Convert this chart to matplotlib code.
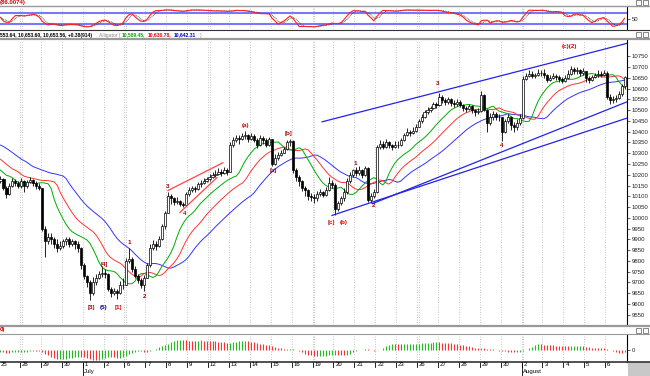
import matplotlib
matplotlib.use("Agg")
import matplotlib.pyplot as plt
import numpy as np
import pandas as pd

# ---- data (hourly bars, 7 per session) ------------------------------------
DAY_LABELS = ["25", "28", "29", "30", "1", "2", "6", "7", "8", "9", "12", "13", "14", "15",
              "16", "19", "20", "21", "22", "23", "26", "27", "28", "29", "30", "2", "3", "4",
              "5", "6"]
MONTHS = {4: "July", 25: "August"}
WEEK_STARTS = [1, 6, 10, 15, 20, 25]
FIRST_OPEN = 10170

CLOSE = [
    10180, 10140, 10110, 10150, 10170, 10160, 10150,   # Jun 25
    10170, 10150, 10165, 10175, 10160, 10150, 10140,   # Jun 28
    9950, 9890, 9910, 9900, 9880, 9860, 9870,          # Jun 29
    9890, 9900, 9880, 9890, 9880, 9860, 9780,          # Jun 30
    9730, 9700, 9650, 9700, 9720, 9740, 9745,          # Jul 1
    9740, 9670, 9650, 9660, 9650, 9690, 9686,          # Jul 2
    9800, 9810, 9760, 9730, 9710, 9690, 9720,          # Jul 6
    9780, 9860, 9880, 9870, 9900, 9960, 10020,         # Jul 7
    10100, 10090, 10075, 10080, 10065, 10060, 10110,   # Jul 8
    10130, 10140, 10135, 10155, 10160, 10170, 10180,   # Jul 9
    10190, 10200, 10205, 10215, 10210, 10220, 10215,   # Jul 12
    10340, 10360, 10370, 10365, 10380, 10385, 10365,   # Jul 13
    10380, 10360, 10340, 10370, 10360, 10340, 10366,   # Jul 14
    10250, 10280, 10290, 10300, 10320, 10350, 10355,   # Jul 15
    10220, 10190, 10170, 10140, 10130, 10100, 10097,   # Jul 16
    10090, 10110, 10120, 10105, 10130, 10160, 10154,   # Jul 19
    10040, 10070, 10090, 10120, 10170, 10200, 10220,   # Jul 20
    10210, 10220, 10200, 10230, 10085, 10100, 10120,   # Jul 21
    10330, 10345, 10330, 10350, 10340, 10330, 10340,   # Jul 22
    10340, 10360, 10385, 10400, 10395, 10405, 10424,   # Jul 23
    10450, 10470, 10490, 10500, 10510, 10530, 10525,   # Jul 26
    10560, 10545, 10540, 10550, 10535, 10530, 10537,   # Jul 27
    10525, 10510, 10505, 10520, 10500, 10490, 10497,   # Jul 28
    10570, 10500, 10440, 10470, 10480, 10470, 10467,   # Jul 29
    10400, 10450, 10470, 10430, 10420, 10440, 10465,   # Jul 30
    10645, 10660, 10670, 10660, 10665, 10675, 10674,   # Aug 2
    10665, 10640, 10650, 10660, 10655, 10645, 10636,   # Aug 3
    10650, 10670, 10690, 10680, 10685, 10675, 10680,   # Aug 4
    10650, 10640, 10655, 10665, 10670, 10665, 10674,   # Aug 5
    10560, 10545, 10550, 10555, 10575, 10610, 10653,   # Aug 6
]
HIGH = [
    10195, 10185, 10150, 10160, 10185, 10180, 10170,
    10185, 10175, 10175, 10190, 10180, 10170, 10160,
    10140, 9960, 9930, 9930, 9910, 9900, 9890,
    9900, 9910, 9910, 9900, 9895, 9890, 9865,
    9790, 9735, 9710, 9725, 9740, 9755, 9770,
    9760, 9745, 9680, 9675, 9670, 9705, 9720,
    9815, 9858, 9820, 9775, 9740, 9720, 9735,
    9790, 9880, 9895, 9890, 9915, 9970, 10030,
    10118, 10110, 10095, 10095, 10085, 10075, 10120,
    10145, 10150, 10150, 10165, 10175, 10185, 10190,
    10205, 10215, 10220, 10230, 10225, 10235, 10230,
    10350, 10375, 10385, 10385, 10395, 10405, 10390,
    10395, 10390, 10370, 10385, 10380, 10370, 10375,
    10345, 10295, 10305, 10315, 10330, 10360, 10365,
    10360, 10230, 10200, 10175, 10150, 10135, 10115,
    10110, 10125, 10135, 10125, 10145, 10190, 10175,
    10160, 10080, 10100, 10140, 10185, 10215, 10229,
    10235, 10240, 10225, 10240, 10235, 10115, 10135,
    10340, 10360, 10355, 10365, 10355, 10345, 10355,
    10355, 10370, 10395, 10415, 10410, 10420, 10435,
    10460, 10480, 10500, 10515, 10520, 10540, 10540,
    10580, 10570, 10555, 10560, 10555, 10545, 10550,
    10545, 10530, 10520, 10530, 10525, 10505, 10510,
    10590, 10575, 10505, 10485, 10495, 10490, 10480,
    10470, 10460, 10480, 10475, 10445, 10460, 10480,
    10660, 10675, 10685, 10680, 10675, 10690, 10685,
    10690, 10670, 10665, 10675, 10670, 10665, 10655,
    10665, 10685, 10705, 10700, 10700, 10690, 10695,
    10680, 10660, 10665, 10675, 10685, 10680, 10685,
    10680, 10575, 10565, 10570, 10590, 10620, 10660,
]
LOW = [
    10160, 10130, 10090, 10105, 10145, 10150, 10140,
    10140, 10120, 10140, 10160, 10150, 10135, 10130,
    9940, 9820, 9880, 9880, 9860, 9840, 9850,
    9860, 9875, 9865, 9870, 9855, 9840, 9760,
    9715, 9680, 9618, 9640, 9690, 9715, 9725,
    9720, 9660, 9630, 9640, 9625, 9645, 9670,
    9686, 9790, 9750, 9720, 9695, 9675, 9660,
    9720, 9770, 9850, 9850, 9865, 9895, 9950,
    10020, 10065, 10060, 10062, 10055, 10048, 10055,
    10100, 10120, 10120, 10130, 10145, 10155, 10165,
    10170, 10185, 10190, 10200, 10195, 10205, 10200,
    10215, 10330, 10350, 10345, 10360, 10365, 10350,
    10360, 10350, 10325, 10335, 10345, 10330, 10335,
    10240, 10245, 10270, 10285, 10300, 10315, 10335,
    10210, 10170, 10150, 10125, 10100, 10085, 10080,
    10070, 10080, 10100, 10095, 10100, 10125, 10140,
    10015, 10030, 10060, 10080, 10110, 10160, 10190,
    10195, 10200, 10185, 10195, 10075, 10070, 10090,
    10115, 10320, 10320, 10325, 10325, 10315, 10325,
    10325, 10335, 10355, 10380, 10380, 10390, 10400,
    10420, 10440, 10465, 10480, 10490, 10505, 10510,
    10520, 10535, 10525, 10530, 10520, 10515, 10520,
    10515, 10495, 10490, 10500, 10485, 10475, 10480,
    10490, 10495, 10400, 10430, 10455, 10455, 10450,
    10355, 10395, 10440, 10410, 10400, 10410, 10430,
    10460, 10640, 10655, 10650, 10650, 10660, 10660,
    10650, 10630, 10635, 10645, 10640, 10630, 10625,
    10630, 10645, 10665, 10670, 10670, 10660, 10665,
    10630, 10625, 10635, 10650, 10655, 10655, 10660,
    10550, 10530, 10535, 10540, 10550, 10565, 10600,
]
# median prices of the (off-screen) sessions before Jun 25, used to warm up the averages
PRE_MEDIAN = [10310, 10290, 10270, 10280, 10300, 10290, 10280,
              10250, 10220, 10200, 10180, 10170, 10160, 10150]
SMMA_SEED = {"jaw": 10375, "teeth": 10310, "lips": 10225}
ALLIGATOR = [("jaw", 13, 8, "#3333ff"), ("teeth", 8, 5, "#ff3333"), ("lips", 5, 3, "#00aa00")]

# wave counts: (text, bar, price, colour)
WAVE_LABELS = [
    ("[3]", 30.3, 9585, "#990000"), ("(5)", 34.7, 9585, "#000099"), ("[1]", 39.4, 9585, "#dd0000"),
    ("[4]", 34.7, 9784, "#990000"), ("1", 43.0, 9886, "#990000"), ("2", 48.4, 9636, "#990000"),
    ("3", 56.1, 10145, "#990000"), ("4", 61.8, 10020, "#990000"), ("(a)", 82.2, 10428, "#dd0000"),
    ("[a]", 91.3, 10219, "#990000"), ("[b]", 96.6, 10391, "#990000"), ("1", 118.7, 10252, "#990000"),
    ("2", 124.8, 10057, "#990000"), ("[c]", 110.7, 9979, "#dd0000"), ("(b)", 115.0, 9979, "#dd0000"),
    ("3", 146.3, 10622, "#990000"), ("4", 167.8, 10335, "#990000"), ("(c)(2)", 190.7, 10798, "#dd0000"),
]
# trend lines: (bar0, price0, bar1, price1, colour)
TRENDLINES = [
    (107.7, 10446, 210.2, 10812, "#2222ee"),
    (111.0, 10011, 210.2, 10465, "#2222ee"),
    (124.6, 10066, 210.2, 10541, "#2222ee"),
    (56.1, 10127, 74.5, 10256, "#ff4444"),
    (60.1, 10025, 72.5, 10187, "#ff4444"),
]

# ---- style ------------------------------------------------------------------
W, H = 650, 376
AX_R = 627
GRIDC = "#b4b4b4"
UP_C, DN_C = "#22bb22", "#ff3030"
plt.rcParams.update({"font.family": ["Liberation Sans", "DejaVu Sans"], "font.size": 4.5})


def rect(x0, y0, x1, y1):
    """pixel box (top-left origin) -> figure fraction rect"""
    return [x0 / W, 1 - y1 / H, (x1 - x0) / W, (y1 - y0) / H]


def smma(values, n, seed):
    out, s = [], seed
    for v in values:
        s = (s * (n - 1) + v) / n
        out.append(s)
    return np.array(out)


close = np.array(CLOSE, float)
high = np.array(HIGH, float)
low = np.array(LOW, float)
opn = np.concatenate([[FIRST_OPEN], close[:-1]])
n = len(close)
idx = np.arange(n)
med = (high + low) / 2
npre = len(PRE_MEDIAN)
med_all = np.concatenate([PRE_MEDIAN, med])

alli = {}
for key, per, shift, _ in ALLIGATOR:
    s = smma(med_all, per, SMMA_SEED[key])
    alli[key] = s[npre - shift: npre - shift + n]

# awesome oscillator
ms = pd.Series(med_all)
ao = (ms.rolling(5, min_periods=1).mean() - ms.rolling(34, min_periods=1).mean()).to_numpy()[npre:]
ao_up = np.diff(np.concatenate([[ao[0]], ao])) >= 0

# slow stochastic
hh = pd.Series(high).rolling(14, min_periods=1).max()
ll = pd.Series(low).rolling(14, min_periods=1).min()
fast_k = 100 * (pd.Series(close) - ll) / (hh - ll)
slow_k = fast_k.rolling(3, min_periods=1).mean()
slow_d = slow_k.rolling(3, min_periods=1).mean()

fig = plt.figure(figsize=(W / 100, H / 100), dpi=100)
fig.patch.set_facecolor("white")

ax_top = fig.add_axes(rect(0, 6, AX_R, 29))
ax_main = fig.add_axes(rect(0, 40, AX_R, 325))
ax_bot = fig.add_axes(rect(0, 335, AX_R, 362))

XLIM = (-0.165, n - 0.2)
day_starts = np.arange(len(DAY_LABELS)) * 7 - 0.5

for ax in (ax_top, ax_main, ax_bot):
    ax.set_xlim(*XLIM)
    for sp in ("top", "left", "bottom"):
        ax.spines[sp].set_visible(False)
    ax.spines["right"].set_color("black")
    ax.spines["right"].set_linewidth(0.8)
    ax.yaxis.tick_right()
    ax.tick_params(axis="y", length=2, width=0.5, pad=1.5, labelsize=4.3, colors="#222222")
    ax.set_xticks([])
    for d, xs in enumerate(day_starts):
        ax.axvline(xs, color=GRIDC, lw=0.6, ls=(0, (1, 2)), zorder=0)
        if d in WEEK_STARTS:
            ax.axvline(xs + 0.6, color=GRIDC, lw=0.6, ls=(0, (1, 2)), zorder=0)

# top: stochastic
ax_top.set_ylim(-5.3, 117.6)
ax_top.axhline(80, color="#7777ff", lw=1.5, zorder=1)
ax_top.axhline(20, color="#7777ff", lw=1.5, zorder=1)
ax_top.plot(idx, slow_d, color="#333333", lw=0.6, ls=(0, (1, 1)), zorder=2)
ax_top.plot(idx, slow_k, color="#ff2020", lw=0.8, zorder=3)
ax_top.set_yticks([50])
ax_top.set_yticklabels(["50"])

# main: candles
ax_main.set_ylim(9502, 10826)
up = close >= opn
ax_main.vlines(idx, low, high, color="black", lw=0.6, zorder=3)
ax_main.bar(idx[up], (close - opn)[up], bottom=opn[up], width=0.7, color="white",
            edgecolor="black", linewidth=0.5, zorder=4)
ax_main.bar(idx[~up], (opn - close)[~up], bottom=close[~up], width=0.7, color="black",
            edgecolor="black", linewidth=0.5, zorder=4)
for key, _, _, col in ALLIGATOR:
    ax_main.plot(idx, alli[key], color=col, lw=0.7, zorder=2)
for x0, y0, x1, y1, c in TRENDLINES:
    ax_main.plot([x0, x1], [y0, y1], color=c, lw=0.9, zorder=5)
for txt, x, y, c in WAVE_LABELS:
    ax_main.text(x, y, txt, color=c, fontsize=4.5, ha="center", va="center", zorder=6,
                 fontweight="bold")
ax_main.set_yticks(np.arange(9550, 10751, 50))
ax_main.set_yticklabels([str(v) for v in range(9550, 10751, 50)])

# bottom: AO histogram
m = np.abs(ao).max()
ax_bot.set_ylim(-m * 13 / 11, m * 16 / 11)
ax_bot.vlines(idx[ao_up], 0, ao[ao_up], color=UP_C, lw=0.8)
ax_bot.vlines(idx[~ao_up], 0, ao[~ao_up], color=DN_C, lw=0.8)
ax_bot.set_yticks([0])
ax_bot.set_yticklabels(["0"])

# date axis under the bottom panel
for d, xs in enumerate(day_starts):
    xf = (-1 + 2.986 * (xs + 0.5)) / W
    fig.add_artist(plt.Line2D([xf, xf], [1 - 362 / H, 1 - 367 / H], color="black", lw=0.6))
    fig.text(xf + 2 / W, 1 - 365 / H, DAY_LABELS[d], fontsize=4.3, va="center", ha="left")
    if d in MONTHS:
        fig.add_artist(plt.Line2D([xf, xf], [1 - 362 / H, 0], color="black", lw=0.6))
        fig.text(xf + 1.5 / W, 1 - 372 / H, MONTHS[d], fontsize=4.3, va="center", ha="left")


# frame lines
def hline(y, color, lw, x1=W):
    fig.add_artist(plt.Line2D([0, x1 / W], [1 - y / H, 1 - y / H], color=color, lw=lw))


hline(5.5, "#999999", 1.0)
hline(30, "#333333", 0.8)
hline(39, "#999999", 1.6)
hline(325.5, "#999999", 1.6)
hline(334, "#999999", 0.8)
hline(362, "#333333", 1.2)
fig.add_artist(plt.Rectangle((628 / W, 0), 22 / W, 14 / H, color="#c8c8c8", lw=0))
for yy in (2, 34, 330):
    for xx in (636, 643):
        fig.add_artist(plt.Rectangle((xx / W, 1 - (yy + 3) / H), 5 / W, 5 / H, fill=False,
                                     ec="#555555", lw=0.5))


# header texts
def ptext(x, y, s, color="black", size=3.6, **kw):
    fig.text(x / W, 1 - y / H, s, color=color, fontsize=size, va="center", ha="left", **kw)


ptext(0, 2.5, "(86.0074)", "#dd0000", size=4.3, fontweight="bold")
ptext(0, 35, "553.64, 10,653.60, 10,653.56, +0.38(914)", fontweight="bold")
ptext(99, 35, "Alligator (", "#888888")
ptext(122, 35, "10,589.45,", "#00aa00", fontweight="bold")
ptext(148, 35, "10,630.78,", "#ee0000", fontweight="bold")
ptext(174, 35, "10,642.31", "#0000ee", fontweight="bold")
ptext(199, 35, ")", "#888888")
ptext(0, 330, "0)", "#dd0000", size=4.3, fontweight="bold")

fig.savefig("out.png", dpi=100)
